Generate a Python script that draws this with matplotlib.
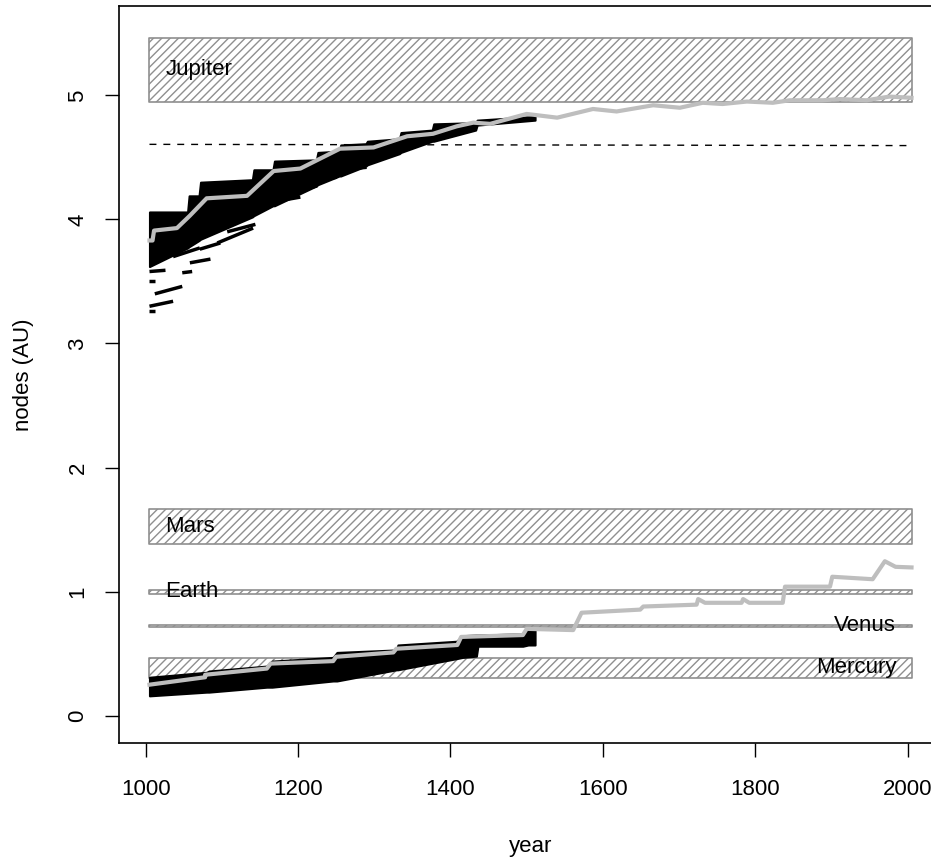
import numpy as np
import matplotlib.pyplot as plt

plt.rcParams['font.family'] = ['Liberation Sans', 'DejaVu Sans']
plt.rcParams['hatch.linewidth'] = 1.0

# planetary orbits (perihelion / aphelion, AU)
planets = ['Mercury', 'Venus', 'Earth', 'Mars', 'Jupiter']
perihelion = [0.307, 0.718, 0.983, 1.381, 4.950]
aphelion = [0.467, 0.728, 1.017, 1.666, 5.459]
label_side = ['right', 'right', 'left', 'left', 'left']
band_years = [1005, 2005]

# reference level (dashed)
ref_years = [1005, 2005]
ref_nodes = [4.605, 4.595]

# outer node, best estimate (grey)
outer_years = [1005, 1009, 1011, 1041, 1058, 1080, 1133, 1168, 1203, 1255, 1299,
               1343, 1377, 1408, 1430, 1452, 1500, 1540, 1587, 1618, 1666, 1701,
               1731, 1757, 1789, 1823, 1845, 1888, 1911, 1946, 1976, 2005]
outer_nodes = [3.83, 3.83, 3.91, 3.93, 4.03, 4.17, 4.19, 4.39, 4.41, 4.57, 4.58,
               4.67, 4.69, 4.75, 4.78, 4.77, 4.85, 4.82, 4.89, 4.87, 4.92, 4.90,
               4.94, 4.93, 4.95, 4.94, 4.96, 4.96, 4.97, 4.96, 4.99, 4.98]

# inner node, best estimate (grey)
inner_years = [1005, 1078, 1078, 1159, 1164, 1246, 1250, 1325, 1329, 1409, 1414,
               1495, 1500, 1561, 1572, 1649, 1653, 1723, 1725, 1734, 1782, 1784,
               1792, 1836, 1839, 1898, 1901, 1954, 1970, 1984, 2005]
inner_nodes = [0.25, 0.31, 0.33, 0.38, 0.42, 0.44, 0.475, 0.51, 0.54, 0.57, 0.635,
               0.65, 0.70, 0.69, 0.83, 0.855, 0.88, 0.895, 0.94, 0.91, 0.91, 0.94,
               0.91, 0.91, 1.04, 1.04, 1.12, 1.10, 1.245, 1.20, 1.195]

# spread of the resampled outer nodes (black)
ens_out_years = [1005, 1055, 1057, 1070, 1072, 1140, 1142, 1167, 1169, 1224, 1226,
                 1254, 1256, 1289, 1291, 1333, 1335, 1376, 1378, 1433, 1435, 1511]
ens_out_hi = [4.06, 4.06, 4.19, 4.19, 4.30, 4.32, 4.40, 4.40, 4.47, 4.48, 4.54,
              4.55, 4.60, 4.61, 4.63, 4.65, 4.70, 4.72, 4.77, 4.78, 4.80, 4.83]
ens_out_lo = [3.62, 3.77, 3.78, 3.83, 3.84, 4.02, 4.03, 4.11, 4.11, 4.27, 4.28,
              4.35, 4.35, 4.43, 4.44, 4.53, 4.54, 4.63, 4.63, 4.72, 4.76, 4.80]

# stray outer samples below the bulk
stray_y0 = [1005, 1005, 1048, 1012, 1005, 1005, 1058, 1036, 1071, 1094,
            1107, 1098, 1124, 1166, 1180, 1212, 1238, 1259, 1298]
stray_y1 = [1026, 1012, 1061, 1048, 1036, 1012, 1085, 1071, 1098, 1141,
            1144, 1124, 1150, 1203, 1225, 1251, 1290, 1308, 1338]
stray_n0 = [3.58, 3.50, 3.57, 3.40, 3.30, 3.26, 3.65, 3.70, 3.76, 3.81,
            3.90, 3.97, 4.03, 4.14, 4.20, 4.31, 4.39, 4.48, 4.54]
stray_n1 = [3.59, 3.50, 3.58, 3.46, 3.34, 3.26, 3.68, 3.77, 3.81, 3.93,
            3.96, 4.03, 4.08, 4.18, 4.27, 4.34, 4.42, 4.51, 4.56]

# spread of the resampled inner nodes (black)
ens_in_years = [1005, 1080, 1083, 1159, 1166, 1246, 1251, 1329, 1331, 1408,
                1416, 1434, 1436, 1495, 1502, 1511]
ens_in_hi = [0.31, 0.35, 0.36, 0.40, 0.44, 0.47, 0.51, 0.53, 0.57, 0.60,
             0.645, 0.65, 0.65, 0.66, 0.69, 0.69]
ens_in_lo = [0.16, 0.19, 0.19, 0.23, 0.23, 0.28, 0.28, 0.37, 0.37, 0.46,
             0.47, 0.48, 0.56, 0.56, 0.57, 0.57]

fig = plt.figure(figsize=(9.31, 8.6), dpi=100)
ax = fig.add_axes([119 / 931, 117 / 860, (942 - 119) / 931, (743 - 6) / 860])

# orbit bands
for name, lo, hi, side in zip(planets, perihelion, aphelion, label_side):
    ax.fill_between(band_years, lo, hi, facecolor='none', edgecolor='#8f8f8f',
                    hatch='////', linewidth=1.2, zorder=1)
    if side == 'left':
        ax.text(1026, (lo + hi) / 2, name, ha='left', va='center',
                fontsize=16, zorder=6)
    else:
        ax.text(1985, (lo + hi) / 2, name, ha='right', va='center',
                fontsize=16, zorder=6)

ax.plot(ref_years, ref_nodes, color='black', lw=1, dashes=(5, 5), zorder=2)

# resampled nodes
ax.fill_between(ens_out_years, ens_out_lo, ens_out_hi,
                color='black', lw=1.5, zorder=3)
ax.fill_between(ens_in_years, ens_in_lo, ens_in_hi,
                color='black', lw=1.5, zorder=3)
for x0, x1, n0, n1 in zip(stray_y0, stray_y1, stray_n0, stray_n1):
    ax.plot([x0, x1], [n0, n1], color='black', lw=2.5, solid_capstyle='butt',
            zorder=3)

# best estimates
ax.plot(outer_years, outer_nodes, color='#bebebe', lw=3, zorder=4)
ax.plot(inner_years, inner_nodes, color='#bebebe', lw=3, zorder=4)

ax.set_xlim(965, 2045)
ax.set_ylim(-0.22, 5.72)
ax.set_xticks([1000, 1200, 1400, 1600, 1800, 2000])
ax.set_yticks([0, 1, 2, 3, 4, 5])
ax.set_yticklabels(['0', '1', '2', '3', '4', '5'], rotation=90, va='center')
ax.tick_params(direction='out', length=10, width=1, labelsize=16)
ax.tick_params(axis='x', pad=16)
ax.tick_params(axis='y', pad=12)
for s in ax.spines.values():
    s.set_linewidth(1.2)

ax.set_xlabel('year', fontsize=16, labelpad=26)
ax.set_ylabel('nodes (AU)', fontsize=16, labelpad=24)

fig.savefig('out.png', dpi=100)
